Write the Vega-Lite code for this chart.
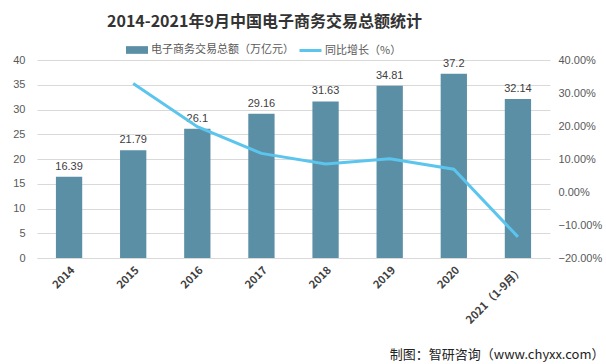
{
  "$schema": "https://vega.github.io/schema/vega-lite/v6.json",
  "autosize": {"type": "none"},
  "width": 513,
  "height": 198,
  "padding": {"left": 37, "top": 60, "right": 56, "bottom": 106},
  "background": "#ffffff",
  "config": {
    "view": {"stroke": null},
    "font": "Noto Sans CJK SC",
    "axis": {"labelFont": "Noto Sans CJK SC", "titleFont": "Noto Sans CJK SC"},
    "legend": {"labelFont": "Noto Sans CJK SC"}
  },
  "title": {
    "text": "2014-2021年9月中国电子商务交易总额统计",
    "fontSize": 16,
    "fontWeight": "bold",
    "color": "#333333",
    "anchor": "start",
    "frame": "group",
    "dx": 70,
    "offset": -8,
    "baseline": "bottom"
  },
  "data": {
    "values": [
      {"year": "2014", "value": 16.39, "growth": null},
      {"year": "2015", "value": 21.79, "growth": 32.9},
      {"year": "2016", "value": 26.1, "growth": 19.8},
      {"year": "2017", "value": 29.16, "growth": 11.7},
      {"year": "2018", "value": 31.63, "growth": 8.5},
      {"year": "2019", "value": 34.81, "growth": 10.1},
      {"year": "2020", "value": 37.2, "growth": 6.9},
      {"year": "2021（1-9月）", "value": 32.14, "growth": -13.6}
    ]
  },
  "layer": [
    {
      "layer": [
        {
          "mark": {"type": "bar"},
          "encoding": {
            "x": {
              "field": "year",
              "type": "ordinal",
              "sort": null,
              "scale": {"paddingInner": 0.59, "paddingOuter": 0.295},
              "axis": {
                "labelAngle": -45,
                "labelFontWeight": "bold",
                "labelFontSize": 11,
                "labelColor": "#404040",
                "ticks": false,
                "domainColor": "#D9D9D9",
                "labelPadding": 6,
                "title": "制图：智研咨询（www.chyxx.com）",
                "titleFontSize": 13,
                "titleFontWeight": "normal",
                "titleColor": "#222222",
                "titleAnchor": "end",
                "titleAlign": "right",
                "titleBaseline": "alphabetic",
                "titleX": 567,
                "titleY": 100
              }
            },
            "y": {
              "field": "value",
              "type": "quantitative",
              "scale": {"domain": [0, 40], "nice": false},
              "axis": {
                "values": [0, 5, 10, 15, 20, 25, 30, 35, 40],
                "labelOverlap": false,
                "title": null,
                "domain": false,
                "ticks": false,
                "labelFont": "Liberation Sans",
                "labelFontSize": 11,
                "labelColor": "#595959",
                "labelPadding": 12,
                "gridColor": "#D9D9D9"
              }
            },
            "color": {
              "datum": "电子商务交易总额（万亿元）",
              "scale": {"range": ["#5B8FA6"]},
              "legend": {
                "title": null,
                "orient": "none",
                "legendX": 88,
                "legendY": -22,
                "padding": 0,
                "symbolType": "M-1,-0.35H1V0.35H-1Z",
                "symbolSize": 484,
                "symbolOpacity": 1,
                "labelFontSize": 11,
                "labelColor": "#595959",
                "labelOffset": 2
              }
            }
          }
        },
        {
          "mark": {"type": "text", "dy": -10, "fontSize": 11, "font": "Liberation Sans", "color": "#404040"},
          "encoding": {
            "x": {"field": "year", "type": "ordinal", "sort": null},
            "y": {
              "field": "value",
              "type": "quantitative",
              "axis": {
                "values": [0, 5, 10, 15, 20, 25, 30, 35, 40],
                "labelOverlap": false,
                "title": null,
                "domain": false,
                "ticks": false,
                "labelFont": "Liberation Sans",
                "labelFontSize": 11,
                "labelColor": "#595959",
                "labelPadding": 12,
                "gridColor": "#D9D9D9"
              }
            },
            "text": {"field": "value", "type": "nominal"}
          }
        }
      ]
    },
    {
      "mark": {"type": "line", "strokeWidth": 3},
      "transform": [{"filter": "datum.growth != null"}],
      "encoding": {
        "x": {"field": "year", "type": "ordinal", "sort": null},
        "y": {
          "field": "growth",
          "type": "quantitative",
          "scale": {"domain": [-20, 40], "nice": false},
          "axis": {
            "orient": "right",
            "values": [-20, -10, 0, 10, 20, 30, 40],
            "labelOverlap": false,
            "labelExpr": "format(datum.value, '.2f') + '%'",
            "title": null,
            "domain": false,
            "ticks": false,
            "grid": false,
            "labelFont": "Liberation Sans",
            "labelFontSize": 11,
            "labelColor": "#595959",
            "labelPadding": 8
          }
        },
        "stroke": {
          "datum": "同比增长（%）",
          "scale": {"range": ["#5BC5EE"]},
          "legend": {
            "title": null,
            "orient": "none",
            "legendX": 261,
            "legendY": -22,
            "padding": 0,
            "symbolType": "stroke",
            "symbolSize": 484,
            "symbolStrokeWidth": 3,
            "labelFontSize": 11,
            "labelColor": "#595959",
            "labelOffset": 2
          }
        }
      }
    }
  ],
  "resolve": {"scale": {"y": "independent"}}
}
